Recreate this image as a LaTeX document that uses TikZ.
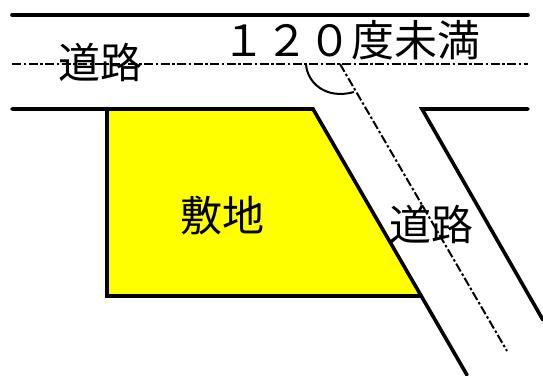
\documentclass[tikz,border=0pt]{standalone}
\usepackage{fontspec}
\setmainfont{Noto Sans CJK JP}
\definecolor{siteyellow}{RGB}{255,255,0}
\tikzset{
  wall/.style = {line width=3.6pt, black, line cap=round},
  center_line/.style = {line width=2pt, black, dash pattern=on 9pt off 2.5pt on 2.5pt off 2.5pt},
  arc_line/.style = {line width=2pt, black},
  site/.style = {fill=siteyellow, draw=black, line width=3.6pt, line join=miter},
  label_big/.style = {inner sep=0pt, text centered, font=\fontsize{42}{42}\selectfont},
  label_wide/.style = {label_big, font=\fontsize{43}{43}\selectfont}
}
\begin{document}
\begin{tikzpicture}[x=1pt, y=-1pt]
	\useasboundingbox (0,0) rectangle (543,375);
	% road edges
	\coordinate (top_l) at (12,15);
	\coordinate (top_r) at (528,15);
	\coordinate (low_l) at (12,109);
	\coordinate (corner_a) at (107,109);
	\coordinate (corner_b) at (313,109);
	\coordinate (corner_c) at (421,296);
	\coordinate (corner_d) at (107,296);
	\coordinate (side_end) at (467,375);
	\coordinate (low_r) at (528,109);
	\coordinate (side_b) at (422,109);
	\coordinate (side_c) at (543,320);
	% center lines
	\coordinate (mid_l) at (12,64);
	\coordinate (mid_r) at (528,64);
	\coordinate (mid_x) at (340,64);
	\coordinate (mid_end) at (507,351);
	\coordinate (arc_a) at (306,64);
	\coordinate (arc_b) at (354,92);

	\fill [siteyellow] (corner_a) -- (corner_b) -- (corner_c) -- (corner_d) -- cycle;
	\draw [wall] (top_l) -- (top_r);
	\draw [wall] (low_l) -- (corner_b) -- (side_end);
	\draw [wall] (corner_a) -- (corner_d) -- (corner_c);
	\draw [wall] (low_r) -- (side_b) -- (side_c);
	\draw [center_line] (mid_l) -- (mid_r);
	\draw [center_line] (mid_x) -- (mid_end);
	\draw [arc_line] (arc_a) .. controls (307,82) and (325,100) .. (arc_b);

	\node [label_big] (road_a) at (100,62) {道路};
	\node [label_wide] (angle) at (351,40) {１２０度未満};
	\node [label_big] (land) at (222,215) {敷地};
	\node [label_big] (road_b) at (431,224) {道路};
\end{tikzpicture}
\end{document}
